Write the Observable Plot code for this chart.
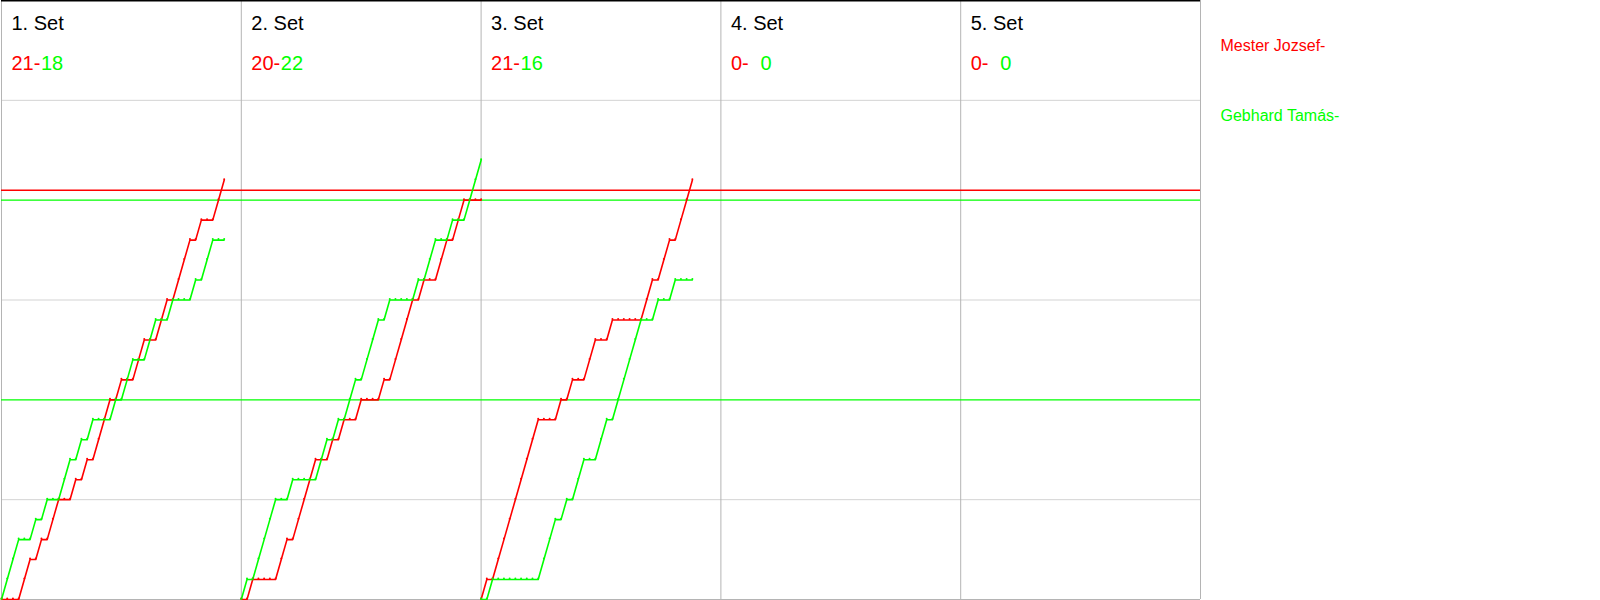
<!DOCTYPE html>
<html>
<head>
<meta charset="utf-8">
<script src="https://cdn.jsdelivr.net/npm/d3@7"></script>
<script src="https://cdn.jsdelivr.net/npm/@observablehq/plot@0.6"></script>
<style>
  html, body { margin: 0; padding: 0; background: #fff; }
  #chart svg { display: block; }
</style>
</head>
<body>
<div id="chart"></div>
<script>
// ---- data ----
const setLabels = ["1. Set", "2. Set", "3. Set", "4. Set", "5. Set"];
const redSetScores = [21, 20, 21, 0, 0];
const greenSetScores = [18, 22, 16, 0, 0];
const playerNames = ["Mester Jozsef-", "Gebhard Tamás-"];
const playerColors = ["#ff0000", "#00ff00"];

// who won each rally (R = Mester Jozsef, G = Gebhard Tamás)
const set1Rallies = ["G","G","G","R","R","G","R","G","R","R","G","G","R","G","R","G","R","R","R","G",
                     "R","G","G","R","R","G","G","R","R","G","R","R","R","G","R","G","G","R","R"];
const set2Rallies = ["G","R","G","G","G","G","R","R","G","R","R","R","R","G","G","R","G","R","G","G",
                     "R","G","G","G","R","G","R","R","R","R","G","R","G","G","R","R","G","R","R","G",
                     "G","G"];
const set3Rallies = ["R","G","R","R","R","R","R","R","R","R","G","G","G","R","G","R","G","G","R","R",
                     "G","G","R","G","G","G","G","G","R","R","G","R","R","G","R","R","R"];
const set4Rallies = [];
const set5Rallies = [];
const allSets = [set1Rallies, set2Rallies, set3Rallies, set4Rallies, set5Rallies];

const ralliesPerPanel = 42;
const panelStarts = [0, 1, 2, 3, 4, 5].map(i => i * ralliesPerPanel);
const gridScores = [5, 15, 25];
const refLines = [
  {score: 20.5, color: "#ff0000"},
  {score: 20, color: "#00ff00"},
  {score: 10, color: "#00ff00"}
];

// cumulative score table built from the rally lists
const redPoints = [], greenPoints = [];
allSets.forEach((rallies, s) => {
  if (!rallies.length) return;
  let r = 0, g = 0;
  redPoints.push({set: s, rally: 0, score: 0});
  greenPoints.push({set: s, rally: 0, score: 0});
  rallies.forEach((w, i) => {
    if (w === "R") r++; else g++;
    redPoints.push({set: s, rally: i + 1, score: r});
    greenPoints.push({set: s, rally: i + 1, score: g});
  });
});
const px = d => d.set * ralliesPerPanel + d.rally;

const font = "'Liberation Sans', Arial, sans-serif";

const chart = Plot.plot({
  width: 1600,
  height: 600,
  marginLeft: 1,
  marginRight: 400,
  marginTop: 0,
  marginBottom: 1,
  style: {fontFamily: font, background: "#fff"},
  x: {domain: [0, 5 * ralliesPerPanel], axis: null},
  y: {domain: [0, 30], axis: null},
  marks: [
    Plot.ruleY(gridScores, {stroke: "#d3d3d3", strokeWidth: 1}),
    Plot.ruleY([0], {stroke: "#b4b4b4", strokeWidth: 1}),
    Plot.ruleX(panelStarts, {stroke: "#b4b4b4", strokeWidth: 1}),
    Plot.ruleY([30], {stroke: "#000", strokeWidth: 2}),
    Plot.ruleY(refLines, {y: "score", stroke: "color", strokeWidth: 1.4}),
    Plot.line(redPoints, {x: px, y: "score", z: "set", stroke: playerColors[0], strokeWidth: 1.6}),
    Plot.line(greenPoints, {x: px, y: "score", z: "set", stroke: playerColors[1], strokeWidth: 1.6}),
    Plot.dot(redPoints, {x: px, y: "score", r: 1, fill: playerColors[0], stroke: null, dy: -1}),
    Plot.dot(greenPoints, {x: px, y: "score", r: 1, fill: playerColors[1], stroke: null, dy: -1}),
    Plot.text(setLabels, {x: (d, i) => i * ralliesPerPanel, frameAnchor: "top", dx: 10, dy: 29,
      textAnchor: "start", lineAnchor: "bottom", fontSize: 20, fill: "#000"}),
    Plot.text(redSetScores, {x: (d, i) => i * ralliesPerPanel, text: d => `${d}-`, frameAnchor: "top",
      dx: 10, dy: 69, textAnchor: "start", lineAnchor: "bottom", fontSize: 20, fill: playerColors[0]}),
    Plot.text(greenSetScores, {x: (d, i) => i * ralliesPerPanel, text: d => `${d}`, frameAnchor: "top",
      dx: 39.5, dy: 69, textAnchor: "start", lineAnchor: "bottom", fontSize: 20, fill: playerColors[1]}),
    Plot.text([playerNames[0]], {frameAnchor: "top-right", dx: 20, dy: 50, textAnchor: "start",
      lineAnchor: "bottom", fontSize: 16, fill: playerColors[0]}),
    Plot.text([playerNames[1]], {frameAnchor: "top-right", dx: 20, dy: 120, textAnchor: "start",
      lineAnchor: "bottom", fontSize: 16, fill: playerColors[1]})
  ]
});
document.getElementById("chart").appendChild(chart);
</script>
</body>
</html>
